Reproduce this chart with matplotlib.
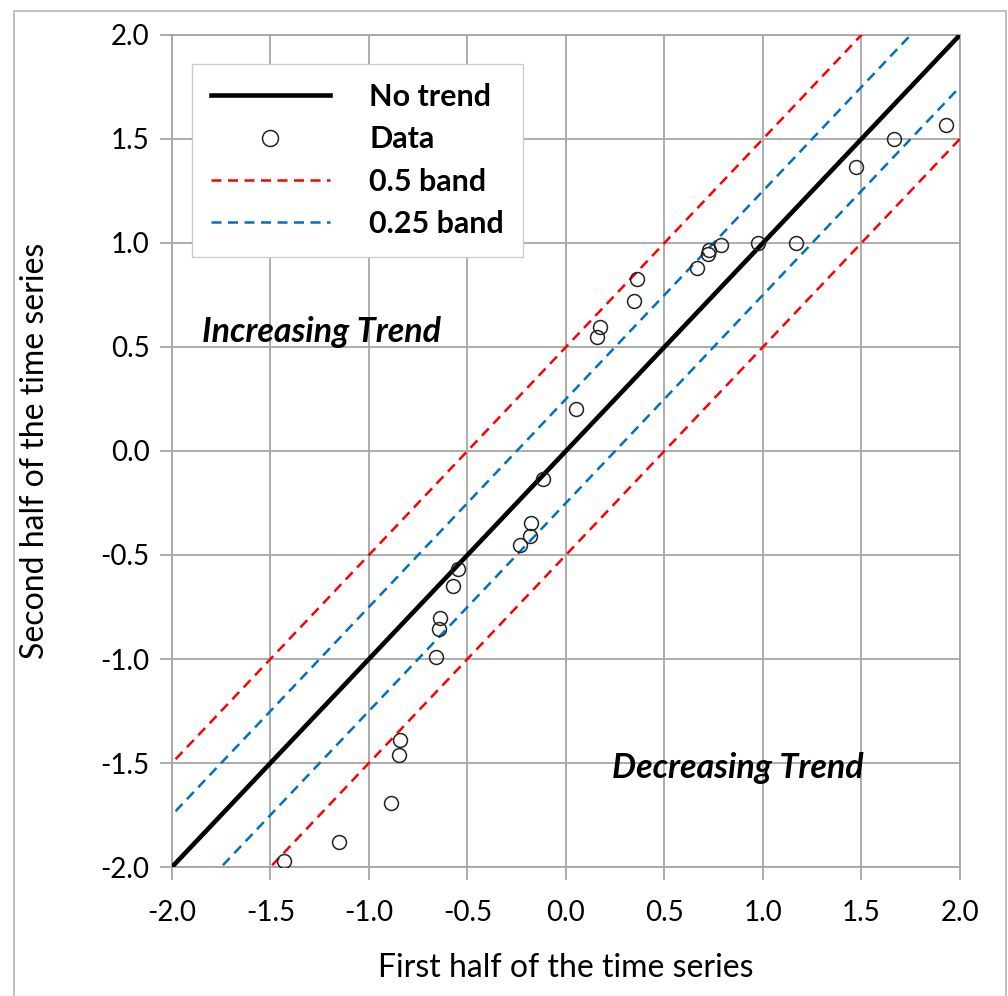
import matplotlib.pyplot as plt
import numpy as np

# Scatter data: first half vs second half of the series
first_half = [-1.43, -1.15, -0.89, -0.85, -0.84, -0.66, -0.645, -0.64, -0.575, -0.55,
              -0.235, -0.18, -0.175, -0.115, 0.05, 0.16, 0.175, 0.345, 0.36,
              0.665, 0.72, 0.725, 0.785, 0.975, 1.17, 1.475, 1.665, 1.93]
second_half = [-1.97, -1.88, -1.69, -1.46, -1.39, -0.99, -0.855, -0.805, -0.65, -0.565,
               -0.45, -0.41, -0.345, -0.135, 0.20, 0.55, 0.595, 0.72, 0.825,
               0.88, 0.945, 0.965, 0.99, 1.0, 1.0, 1.365, 1.50, 1.565]

line_x = [-2.5, 2.5]
band_offsets = {"0.5 band": 0.5, "0.25 band": 0.25}
band_colors = {"0.5 band": "#ff0000", "0.25 band": "#0070c0"}
ticks = [-2.0, -1.5, -1.0, -0.5, 0.0, 0.5, 1.0, 1.5, 2.0]

plt.rcParams['font.family'] = ['Lato', 'DejaVu Sans']

fig = plt.figure(figsize=(10.08, 9.96), dpi=100)
ax = fig.add_axes([0.1706, 0.1295, 0.7817, 0.8354])

# no-trend line
ax.plot(line_x, line_x, color="black", lw=3.3, label="No trend", zorder=4)
ax.plot(first_half, second_half, "o", ms=10, mfc="none", mec="#222222", mew=1.1,
        label="Data", zorder=5)
for name, off in band_offsets.items():
    xs = np.array(line_x)
    ax.plot(xs, xs + off, "--", color=band_colors[name], lw=1.8, dashes=(4, 2.6),
            label=name, zorder=3)
    ax.plot(xs, xs - off, "--", color=band_colors[name], lw=1.8, dashes=(4, 2.6), zorder=3)

ax.set_xlim(-2, 2)
ax.set_ylim(-2, 2)
ax.set_xticks(ticks)
ax.set_yticks(ticks)
ax.set_xticklabels([f"{t:.1f}" for t in ticks])
ax.set_yticklabels([f"{t:.1f}" for t in ticks])
ax.grid(True, color="#a6a6a6", lw=1.3)
ax.set_axisbelow(True)
for s in ax.spines.values():
    s.set_color("#a6a6a6")
    s.set_linewidth(1.3)
ax.tick_params(axis="both", labelsize=20, color="#a6a6a6", length=9, width=1.3)
ax.tick_params(axis="x", pad=15)
ax.tick_params(axis="y", pad=7)

ax.set_xlabel("First half of the time series", fontsize=23)
ax.set_ylabel("Second half of the time series", fontsize=23)
ax.xaxis.set_label_coords(0.5, -0.121)
ax.yaxis.set_label_coords(-0.174, 0.5)
ax.xaxis.label.set_va("center")
ax.yaxis.label.set_va("center")

ax.text(-1.845, 0.57, "Increasing Trend", fontsize=24.5, fontweight="bold",
        fontstyle="italic", va="center", ha="left")
ax.text(0.235, -1.525, "Decreasing Trend", fontsize=24.5, fontweight="bold",
        fontstyle="italic", va="center", ha="left")

leg = ax.legend(loc="upper left", bbox_to_anchor=(0.025, 0.965),
                prop={"weight": "bold", "size": 22}, frameon=True, fancybox=False,
                framealpha=1, edgecolor="#cccccc", handlelength=3.9, handletextpad=1.3,
                borderpad=0.62, labelspacing=0.47, borderaxespad=0, markerscale=1.15)
leg.get_frame().set_linewidth(1.0)

# thin frame round the picture
fig.add_artist(plt.Rectangle((14 / 1008, -0.01), 992 / 1008, 1 - 11 / 996 + 0.01,
                             transform=fig.transFigure, fill=False,
                             edgecolor="#b4b4b4", lw=1.2))

plt.savefig("out.png")
plt.close()
